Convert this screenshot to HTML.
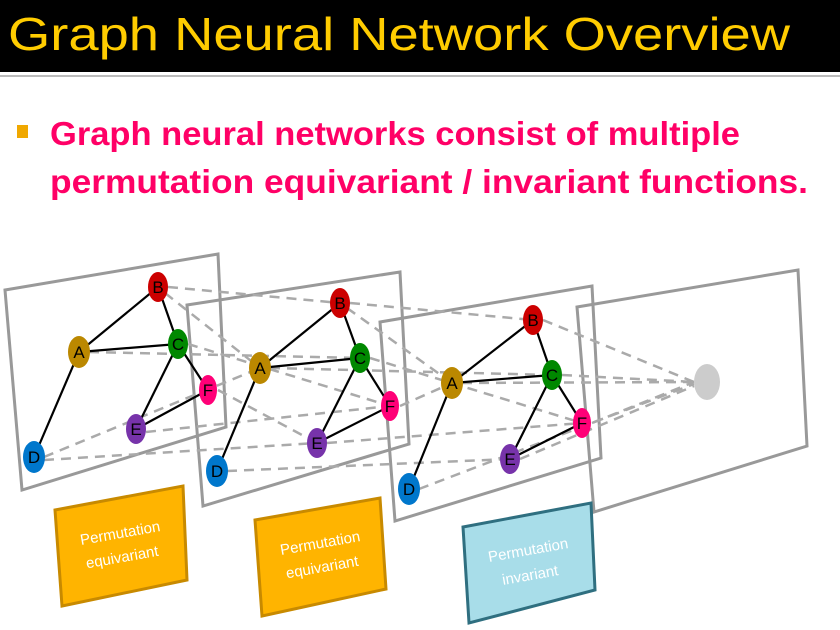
<!DOCTYPE html>
<html><head><meta charset="utf-8"><style>
html,body{margin:0;padding:0;background:#fff;}
svg{display:block}
</style></head><body>
<svg width="840" height="630" viewBox="0 0 840 630" xmlns="http://www.w3.org/2000/svg" font-family="Liberation Sans, sans-serif">
<rect x="0" y="0" width="840" height="72" fill="#000"/>
<rect x="0" y="75" width="840" height="2" fill="#bbb"/>
<text x="8" y="50" font-size="46" fill="#ffcc00" textLength="782" lengthAdjust="spacingAndGlyphs">Graph Neural Network Overview</text>
<rect x="17" y="125" width="11" height="13" fill="#f0a800"/>
<g font-weight="bold" fill="#ff0066" font-size="33">
<text x="50" y="145" textLength="690" lengthAdjust="spacingAndGlyphs">Graph neural networks consist of multiple</text>
<text x="50" y="193" textLength="758" lengthAdjust="spacingAndGlyphs">permutation equivariant / invariant functions.</text>
</g>
<!-- frames -->
<g fill="none" stroke="#999" stroke-width="3">
<polygon points="5,290 218,254 226,427 22,490"/>
<polygon points="187,305 400,272 409,444 203,506"/>
<polygon points="380,322 592,286 601,458 395,521"/>
<polygon points="577,307 798,270 807,446 594,512"/>
</g>
<!-- dashed connectors -->
<g stroke="#aaa" stroke-width="2.5" stroke-dasharray="10,7" fill="none">
<line x1="168" y1="287" x2="340" y2="303"/>
<line x1="165" y1="293" x2="260" y2="368"/>
<line x1="89" y1="352" x2="360" y2="358"/>
<line x1="188" y1="344" x2="390" y2="406"/>
<line x1="44" y1="457" x2="260" y2="368"/>
<line x1="44" y1="460" x2="317" y2="443"/>
<line x1="146" y1="432" x2="390" y2="406"/>
<line x1="218" y1="390" x2="317" y2="443"/>
<line x1="350" y1="303" x2="533" y2="320"/>
<line x1="347" y1="308" x2="452" y2="383"/>
<line x1="270" y1="368" x2="552" y2="375"/>
<line x1="370" y1="358" x2="582" y2="423"/>
<line x1="227" y1="471" x2="510" y2="459"/>
<line x1="327" y1="443" x2="582" y2="423"/>
<line x1="400" y1="406" x2="452" y2="383"/>
<line x1="543" y1="320" x2="694" y2="382"/>
<line x1="462" y1="383" x2="694" y2="382"/>
<line x1="562" y1="375" x2="694" y2="382"/>
<line x1="592" y1="423" x2="694" y2="382"/>
<line x1="419" y1="489" x2="694" y2="384"/>
<line x1="520" y1="459" x2="694" y2="386"/>
</g>
<!-- solid edges -->
<g stroke="#000" stroke-width="2.2">
<line x1="158" y1="287" x2="79" y2="352"/><line x1="158" y1="287" x2="178" y2="344"/>
<line x1="79" y1="352" x2="178" y2="344"/><line x1="79" y1="352" x2="34" y2="457"/>
<line x1="178" y1="344" x2="208" y2="390"/><line x1="178" y1="344" x2="136" y2="429"/>
<line x1="136" y1="429" x2="208" y2="390"/>
<line x1="340" y1="303" x2="260" y2="368"/><line x1="340" y1="303" x2="360" y2="358"/>
<line x1="260" y1="368" x2="360" y2="358"/><line x1="260" y1="368" x2="217" y2="471"/>
<line x1="360" y1="358" x2="390" y2="406"/><line x1="360" y1="358" x2="317" y2="443"/>
<line x1="317" y1="443" x2="390" y2="406"/>
<line x1="533" y1="320" x2="452" y2="383"/><line x1="533" y1="320" x2="552" y2="375"/>
<line x1="452" y1="383" x2="552" y2="375"/><line x1="452" y1="383" x2="409" y2="489"/>
<line x1="552" y1="375" x2="582" y2="423"/><line x1="552" y1="375" x2="510" y2="459"/>
<line x1="510" y1="459" x2="582" y2="423"/>
</g>
<!-- nodes -->
<g font-size="17" text-anchor="middle" fill="#000">
<g>
<ellipse cx="158" cy="287" rx="10" ry="15" fill="#cc0000"/><text x="158" y="293">B</text>
<ellipse cx="79" cy="352" rx="11" ry="16" fill="#bb8800"/><text x="79" y="358">A</text>
<ellipse cx="178" cy="344" rx="10" ry="15" fill="#008800"/><text x="178" y="350">C</text>
<ellipse cx="208" cy="390" rx="9" ry="15" fill="#ff0077"/><text x="208" y="396">F</text>
<ellipse cx="136" cy="429" rx="10" ry="15" fill="#7733aa"/><text x="136" y="435">E</text>
<ellipse cx="34" cy="457" rx="11" ry="16" fill="#0077cc"/><text x="34" y="463">D</text>
</g>
<g>
<ellipse cx="340" cy="303" rx="10" ry="15" fill="#cc0000"/><text x="340" y="309">B</text>
<ellipse cx="260" cy="368" rx="11" ry="16" fill="#bb8800"/><text x="260" y="374">A</text>
<ellipse cx="360" cy="358" rx="10" ry="15" fill="#008800"/><text x="360" y="364">C</text>
<ellipse cx="390" cy="406" rx="9" ry="15" fill="#ff0077"/><text x="390" y="412">F</text>
<ellipse cx="317" cy="443" rx="10" ry="15" fill="#7733aa"/><text x="317" y="449">E</text>
<ellipse cx="217" cy="471" rx="11" ry="16" fill="#0077cc"/><text x="217" y="477">D</text>
</g>
<g>
<ellipse cx="533" cy="320" rx="10" ry="15" fill="#cc0000"/><text x="533" y="326">B</text>
<ellipse cx="452" cy="383" rx="11" ry="16" fill="#bb8800"/><text x="452" y="389">A</text>
<ellipse cx="552" cy="375" rx="10" ry="15" fill="#008800"/><text x="552" y="381">C</text>
<ellipse cx="582" cy="423" rx="9" ry="15" fill="#ff0077"/><text x="582" y="429">F</text>
<ellipse cx="510" cy="459" rx="10" ry="15" fill="#7733aa"/><text x="510" y="465">E</text>
<ellipse cx="409" cy="489" rx="11" ry="16" fill="#0077cc"/><text x="409" y="495">D</text>
</g>
</g>
<ellipse cx="707" cy="382" rx="13" ry="18" fill="#cccccc"/>
<!-- boxes -->
<polygon points="55,510 183,486 187,580 62,606" fill="#ffb400" stroke="#c88a00" stroke-width="3"/>
<polygon points="255,520 380,498 386,589 262,616" fill="#ffb400" stroke="#c88a00" stroke-width="3"/>
<polygon points="463,527 591,503 595,590 469,623" fill="#a8dde9" stroke="#2f6f80" stroke-width="3"/>
<g fill="#fff" font-size="15" text-anchor="middle">
<text x="121" y="538" transform="rotate(-10 121 538)">Permutation</text>
<text x="123" y="562" transform="rotate(-10 123 562)">equivariant</text>
<text x="321" y="548" transform="rotate(-10 321 548)">Permutation</text>
<text x="323" y="572" transform="rotate(-10 323 572)">equivariant</text>
<text x="529" y="555" transform="rotate(-10 529 555)">Permutation</text>
<text x="531" y="580" transform="rotate(-10 531 580)">invariant</text>
</g>
</svg>
</body></html>
